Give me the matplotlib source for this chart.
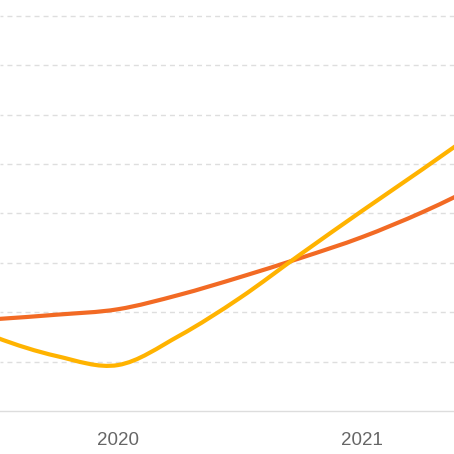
import numpy as np
import matplotlib

matplotlib.use("Agg")
import matplotlib.pyplot as plt
from matplotlib.path import Path
from matplotlib.patches import PathPatch

plt.rcParams["font.family"] = ["Liberation Sans", "DejaVu Sans"]
plt.rcParams["lines.scale_dashes"] = False

# quarterly samples (value units = one grid step)
quarters = [2019.25, 2019.5, 2019.75, 2020.0, 2020.25, 2020.5, 2020.75, 2021.0, 2021.25, 2021.5]
orange_vals = [1.78, 1.86, 1.95, 2.06, 2.35, 2.71, 3.10, 3.52, 4.03, 4.62]
yellow_vals = [2.04, 1.49, 1.11, 0.93, 1.52, 2.29, 3.18, 4.05, 4.90, 5.77]
tick_years = [2020, 2021]
grid_levels = [1, 2, 3, 4, 5, 6, 7, 8]

ORANGE = "#f26a24"
YELLOW = "#ffb300"


def smooth_path(xs, ys):
    # catmull-rom through the points, as cubic bezier segments
    pts = np.column_stack([xs, ys]).astype(float)
    n = len(pts)
    verts = [pts[0]]
    codes = [Path.MOVETO]
    for i in range(n - 1):
        p0 = pts[max(i - 1, 0)]
        p1 = pts[i]
        p2 = pts[i + 1]
        p3 = pts[min(i + 2, n - 1)]
        c1 = p1 + (p2 - p0) / 6.0
        c2 = p2 - (p3 - p1) / 6.0
        verts += [c1, c2, p2]
        codes += [Path.CURVE4] * 3
    return Path(verts, codes)


fig = plt.figure(figsize=(4.54, 4.54), dpi=100)
ax = fig.add_axes([0, 43 / 454, 1, 411 / 454])
ax.set_xlim(2020 - 118 / 244, 2020 + 336 / 244)
ax.set_ylim(0, 411 / 49.4)

for lv in grid_levels:
    ax.axhline(lv, color="#dedede", lw=1.0, linestyle=(1.5, (3.6, 2.9)), zorder=1)

for vals, col, z in ((orange_vals, ORANGE, 3), (yellow_vals, YELLOW, 4)):
    patch = PathPatch(smooth_path(quarters, vals), facecolor="none", edgecolor=col,
                      lw=3.0, capstyle="round", joinstyle="round", zorder=z)
    ax.add_patch(patch)

for side in ("top", "left", "right"):
    ax.spines[side].set_visible(False)
ax.spines["bottom"].set_color("#dddddd")
ax.spines["bottom"].set_linewidth(1.0)
ax.set_yticks([])
ax.set_xticks(tick_years)
ax.set_xticklabels([str(y) for y in tick_years])
ax.tick_params(axis="x", length=0, pad=15, labelsize=13.5, labelcolor="#666666")

fig.savefig("out.png", dpi=100)
